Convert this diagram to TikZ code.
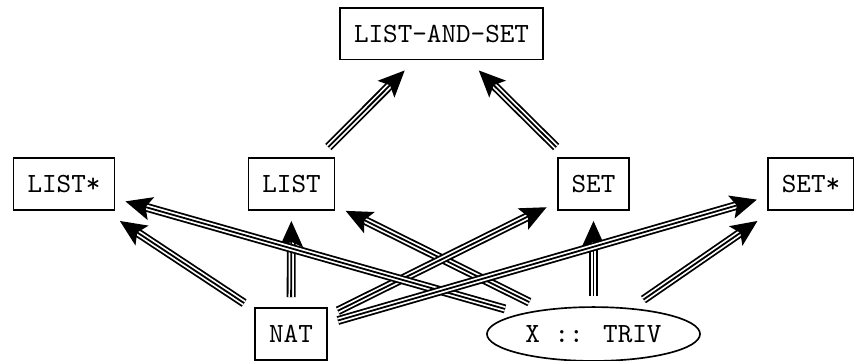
\documentclass[tikz,border=0pt]{standalone}
\usetikzlibrary{arrows.meta,shapes.geometric}
\begin{document}
\begin{tikzpicture}[x=0.36pt,y=-0.36pt,
  box/.style={draw, line width=0.6pt, font=\ttfamily, inner xsep=5pt, inner ysep=0pt, minimum height=18.6pt, outer sep=4pt},
  oval/.style={draw, ellipse, line width=0.6pt, font=\ttfamily, minimum width=76.7pt, minimum height=19.4pt, inner sep=0pt, outer sep=4pt},
  tri/.style={
    postaction={draw, black, line width=3.2pt, shorten >=5.5pt},
    postaction={draw, white, line width=1.9pt, shorten >=5.5pt},
    postaction={draw, black, line width=0.65pt, -{Stealth[length=9.5pt,width=8.5pt,inset=2pt]}}}
]
\useasboundingbox (0,0) rectangle (854,360);
\node[box] (las) at (441.5,33.5) {LIST-AND-SET};
\node[box] (liststar) at (64,184) {LIST*};
\node[box] (list) at (291.5,184) {LIST};
\node[box] (set) at (593.5,184) {SET};
\node[box] (setstar) at (811,184) {SET*};
\node[box] (nat) at (291,334) {NAT};
\node[oval] (triv) at (593.5,334) {X :: TRIV};

\path[tri] (list) -- (las);
\path[tri] (set) -- (las);
\path[tri] (nat) -- (list);
\path[tri] (triv) -- (set);
\path[tri] (nat) -- (liststar);
\path[tri] (triv) -- (setstar);
\path[tri] (triv) -- (list);
\path[tri] (nat) -- (set);
\path[tri] (triv) -- (liststar);
\path[tri] (nat) -- (setstar);
\end{tikzpicture}
\end{document}
